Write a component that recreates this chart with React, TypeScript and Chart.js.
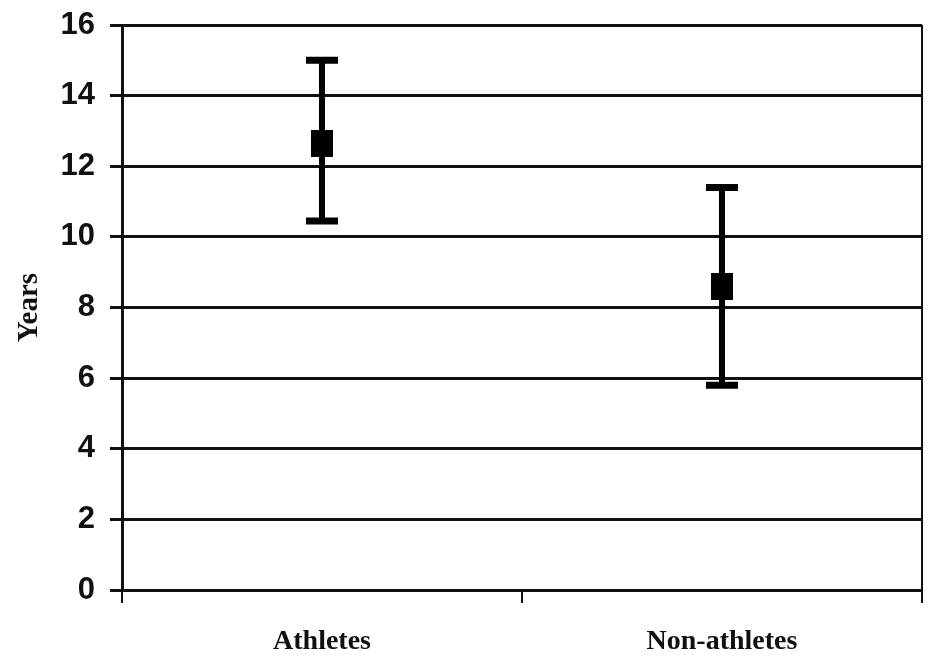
import React, { useEffect, useRef } from "react";
import { Chart, registerables } from "chart.js";

Chart.register(...registerables);

const categories = ["Athletes", "Non-athletes"];
const means = [12.65, 8.6];
const lowerBounds = [10.45, 5.8];
const upperBounds = [15.0, 11.4];
const yTicks = [0, 2, 4, 6, 8, 10, 12, 14, 16];

const errorBarPlugin = {
  id: "errorBars",
  beforeDatasetsDraw(chart: any) {
    const { ctx, scales } = chart;
    const xs = scales.x;
    const ys = scales.y;
    ctx.save();
    ctx.strokeStyle = "#000";
    categories.forEach((_, i) => {
      const x = xs.getPixelForValue(i);
      const yLo = ys.getPixelForValue(lowerBounds[i]);
      const yHi = ys.getPixelForValue(upperBounds[i]);
      ctx.lineWidth = 6;
      ctx.beginPath();
      ctx.moveTo(x, yLo);
      ctx.lineTo(x, yHi);
      ctx.stroke();
      ctx.lineWidth = 7;
      ctx.beginPath();
      ctx.moveTo(x - 16, yLo);
      ctx.lineTo(x + 16, yLo);
      ctx.moveTo(x - 16, yHi);
      ctx.lineTo(x + 16, yHi);
      ctx.stroke();
    });
    ctx.restore();
  },
};

export default function App() {
  const ref = useRef<HTMLCanvasElement>(null);
  useEffect(() => {
    document.body.style.margin = "0";
    const marker = document.createElement("canvas");
    marker.width = 22;
    marker.height = 27;
    const mctx = marker.getContext("2d")!;
    mctx.fillStyle = "#000";
    mctx.fillRect(0, 0, 22, 27);

    const chart = new Chart(ref.current!, {
      type: "line",
      data: {
        labels: categories,
        datasets: [
          {
            data: means,
            showLine: false,
            pointStyle: marker as any,
            pointRadius: 12,
            borderWidth: 0,
            backgroundColor: "#000",
            borderColor: "#000",
          },
        ],
      },
      options: {
        animation: false,
        responsive: false,
        maintainAspectRatio: false,
        layout: { autoPadding: false, padding: { top: 25, right: 7, left: 0, bottom: 0 } },
        plugins: {
          legend: { display: false },
          tooltip: { enabled: false },
        },
        scales: {
          x: {
            type: "category",
            offset: true,
            afterFit: (s: any) => {
              s.height = 68;
              s.paddingLeft = 0;
              s.paddingRight = 0;
            },
            grid: {
              offset: true,
              drawOnChartArea: true,
              color: (c: any) =>
                c.index === undefined || c.index >= categories.length ? "#111" : "rgba(0,0,0,0)",
              lineWidth: 2,
              tickColor: "#111",
              tickLength: 13,
              tickWidth: 2,
            },
            border: { display: true, color: "#111", width: 3 },
            ticks: {
              color: "#111",
              padding: 22,
              font: { family: "'Liberation Serif', 'Times New Roman', serif", size: 28, weight: "bold" },
            },
          },
          y: {
            type: "linear",
            min: 0,
            max: 16,
            afterFit: (s: any) => {
              s.width = 122;
              s.paddingTop = 0;
              s.paddingBottom = 0;
            },
            afterBuildTicks: (s: any) => {
              s.ticks = yTicks.map((v) => ({ value: v }));
            },
            grid: {
              color: "#111",
              lineWidth: 3,
              tickLength: 12,
            },
            border: { display: true, color: "#111", width: 3 },
            ticks: {
              color: "#111",
              padding: 15,
              font: { family: "'Liberation Sans', Arial, sans-serif", size: 31, weight: "bold" },
            },
            title: {
              display: true,
              text: "Years",
              color: "#111",
              padding: { top: 12, bottom: 0 },
              font: { family: "'Liberation Serif', 'Times New Roman', serif", size: 29, weight: "bold" },
            },
          },
        },
      },
      plugins: [errorBarPlugin],
    });
    return () => chart.destroy();
  }, []);
  return (
    <div style={{ width: 929, height: 658, background: "#fff" }}>
      <canvas ref={ref} width={929} height={658} style={{ display: "block" }} />
    </div>
  );
}
